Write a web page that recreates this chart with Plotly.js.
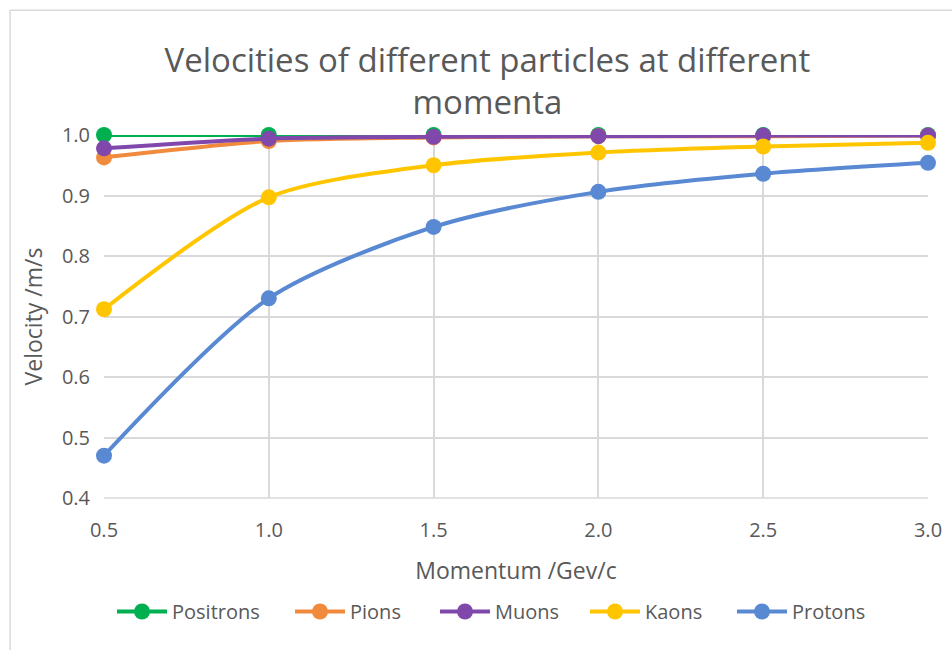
<!DOCTYPE html>
<html><head><meta charset="utf-8">
<script src="https://cdn.plot.ly/plotly-3.0.1.min.js"></script>
<style>html,body{margin:0;padding:0;background:#fff;}#chart{width:952px;height:650px;}</style>
</head><body><div id="chart"></div>
<script>
const momentum = [0.5, 1.0, 1.5, 2.0, 2.5, 3.0];
const positrons = [1.0, 1.0, 1.0, 1.0, 1.0, 1.0];
const pions = [0.963, 0.990, 0.996, 0.998, 0.998, 0.999];
const muons = [0.978, 0.994, 0.997, 0.998, 0.999, 0.999];
const kaons = [0.712, 0.897, 0.950, 0.971, 0.981, 0.987];
const protons = [0.470, 0.730, 0.848, 0.906, 0.936, 0.954];
const xTicks = [0.5, 1.0, 1.5, 2.0, 2.5, 3.0];
const yTicks = [0.4, 0.5, 0.6, 0.7, 0.8, 0.9, 1.0];

const FONT = "'Open Sans', sans-serif";
const L = 104, W = 824;
function px2paper(p) { return (p - L) / W; }
function s(name, y, color, leg) {
  return {x: momentum, y: y, name: name, type: 'scatter', mode: 'lines+markers',
    line: {color: color, width: 4, shape: 'spline', smoothing: 0.8},
    marker: {color: color, size: 16}, cliponaxis: false, legend: leg};
}
const data = [
  s('Positrons', positrons, '#00B050', 'legend'),
  s('Pions', pions, '#F08A3C', 'legend2'),
  s('Muons', muons, '#8148AC', 'legend3'),
  s('Kaons', kaons, '#FFC600', 'legend4'),
  s('Protons', protons, '#5889D2', 'legend5')
];
const legStarts = [117, 295, 440, 590, 737];
function leg(px) {
  return {orientation: 'h', x: px2paper(px - 5), xanchor: 'left', y: -0.259, yanchor: 'top',
    font: {size: 20, color: '#595959'}, bgcolor: 'rgba(0,0,0,0)', itemwidth: 50};
}
const layout = {
  width: 952, height: 650,
  margin: {l: 104, r: 24, t: 135, b: 152},
  paper_bgcolor: '#fff', plot_bgcolor: '#fff',
  font: {family: FONT, color: '#595959', size: 20},
  title: {text: 'Velocities of different particles at different<br>momenta',
    font: {family: FONT, size: 33, color: '#595959'}, x: 0.512, xanchor: 'center', y: 0.89, yanchor: 'top', yref: 'container'},
  xaxis: {range: [0.5, 3.0], tickvals: xTicks, ticktext: xTicks.map(v => v.toFixed(1)),
    showgrid: true, gridcolor: '#D9D9D9', gridwidth: 1.5, zeroline: false,
    showline: false, ticks: '', ticklabelstandoff: 18, tickfont: {size: 20, color: '#595959'},
    title: {text: 'Momentum /Gev/c', font: {size: 23, color: '#595959'}, standoff: 20}},
  yaxis: {range: [0.4, 1.0], tickvals: yTicks, ticktext: yTicks.map(v => v.toFixed(1)),
    showgrid: true, gridcolor: '#D9D9D9', gridwidth: 1.5, zeroline: false,
    showline: false, ticks: '', ticklabelstandoff: 13, tickfont: {size: 20, color: '#595959'},
    title: {text: 'Velocity /m/s', font: {size: 23, color: '#595959'}, standoff: 12}},
  showlegend: true,
  legend: leg(legStarts[0]), legend2: leg(legStarts[1]), legend3: leg(legStarts[2]),
  legend4: leg(legStarts[3]), legend5: leg(legStarts[4]),
  shapes: [
    {type: 'line', xref: 'paper', yref: 'paper', x0: 0, x1: 1, y0: 0, y1: 0, line: {color: '#D9D9D9', width: 1.5}},
    {type: 'rect', xref: 'paper', yref: 'paper', x0: -0.114, x1: 1.2, y0: -1, y1: 1.344, line: {color: '#D9D9D9', width: 1.5}, layer: 'below'}
  ]
};
Plotly.newPlot('chart', data, layout, {displayModeBar: false});
</script></body></html>
